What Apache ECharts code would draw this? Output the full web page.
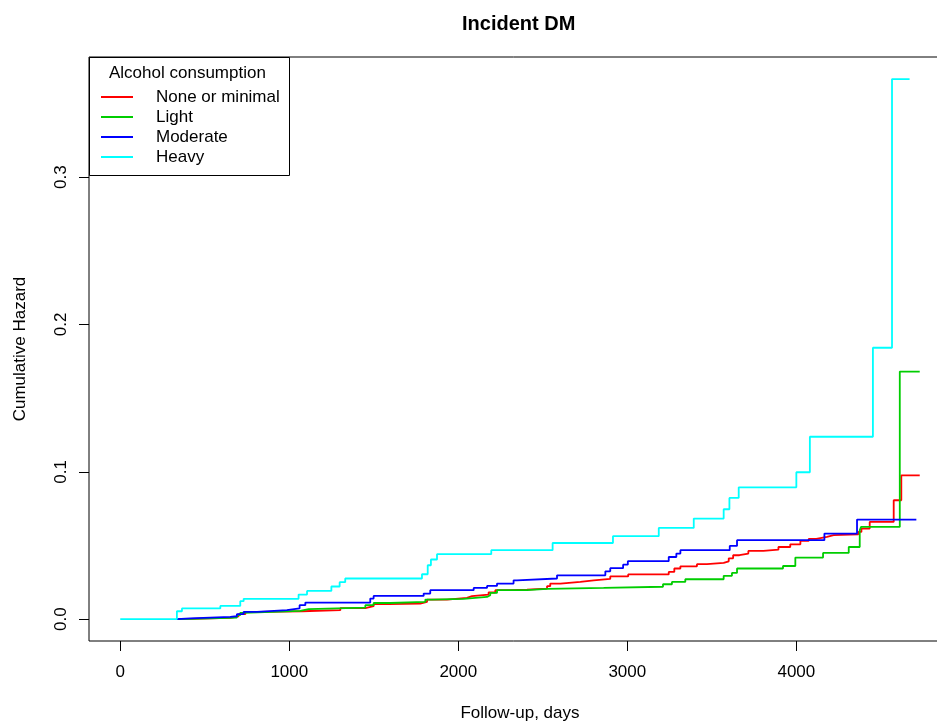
<!DOCTYPE html>
<html>
<head>
<meta charset="utf-8">
<script src="https://cdn.jsdelivr.net/npm/echarts@6/dist/echarts.min.js"></script>
<style>
html,body{margin:0;padding:0;background:#fff;}
#chart{width:937px;height:722px;}
</style>
</head>
<body>
<div id="chart"></div>
<script>
// ---- data ----
var seriesNames = ['None or minimal', 'Light', 'Moderate', 'Heavy'];
var xTicks = [0, 1000, 2000, 3000, 4000];
var yTicks = [0, 0.1, 0.2, 0.3];

var noneTimes = [345, 414, 651, 700, 740, 828, 1075, 1302, 1450, 1499, 1588, 1775, 1815, 1933, 2051, 2081, 2179, 2219, 2308, 2406, 2525, 2544, 2604, 2722, 2801, 2899, 3005, 3245, 3278, 3314, 3412, 3471, 3570, 3600, 3626, 3663, 3716, 3805, 3894, 3964, 4024, 4073, 4118, 4181, 4221, 4367, 4385, 4434, 4576, 4621, 4730];
var noneValues = [0.0002, 0.0009, 0.002, 0.0034, 0.005, 0.0054, 0.0061, 0.0075, 0.0088, 0.0102, 0.0106, 0.0117, 0.0133, 0.0144, 0.0156, 0.0167, 0.0181, 0.0197, 0.0201, 0.0208, 0.0224, 0.0242, 0.0253, 0.0264, 0.0273, 0.029, 0.0304, 0.0321, 0.0344, 0.0359, 0.0373, 0.0382, 0.0393, 0.0413, 0.0434, 0.0445, 0.0463, 0.0472, 0.049, 0.0508, 0.0531, 0.0545, 0.0558, 0.057, 0.0576, 0.0592, 0.0615, 0.066, 0.0807, 0.0976, 0.0976];

var lightTimes = [345, 365, 690, 710, 730, 1065, 1114, 1450, 1499, 1598, 1805, 1844, 2032, 2170, 2189, 2229, 2406, 2525, 2860, 3211, 3264, 3343, 3570, 3619, 3649, 3921, 3994, 4158, 4310, 4375, 4383, 4612, 4730];
var lightValues = [0, 0.0011, 0.0027, 0.0043, 0.0056, 0.0068, 0.0079, 0.0095, 0.011, 0.0117, 0.0133, 0.0138, 0.0151, 0.0163, 0.0178, 0.0197, 0.0206, 0.0212, 0.022, 0.0237, 0.0253, 0.0271, 0.0294, 0.0314, 0.0344, 0.0361, 0.0418, 0.045, 0.049, 0.0603, 0.0626, 0.168, 0.168];

var moderateTimes = [335, 345, 414, 651, 690, 730, 809, 986, 1061, 1095, 1479, 1499, 1795, 1834, 2091, 2170, 2229, 2327, 2347, 2584, 2870, 2899, 2975, 3003, 3245, 3290, 3314, 3606, 3649, 4166, 4359, 4710];
var moderateValues = [0, 0.0005, 0.0016, 0.002, 0.0034, 0.005, 0.0061, 0.0073, 0.0095, 0.0113, 0.014, 0.0158, 0.0174, 0.0197, 0.0212, 0.0226, 0.0242, 0.0264, 0.0276, 0.0298, 0.0325, 0.0346, 0.037, 0.0394, 0.0422, 0.0445, 0.0468, 0.0497, 0.0536, 0.0581, 0.0676, 0.0676];

var heavyTimes = [0, 335, 365, 592, 710, 730, 1055, 1105, 1249, 1298, 1331, 1785, 1819, 1838, 1874, 2195, 2558, 2915, 3186, 3393, 3570, 3604, 3659, 4000, 4080, 4453, 4566, 4670];
var heavyValues = [0, 0.0054, 0.0073, 0.009, 0.0122, 0.0138, 0.0167, 0.0192, 0.0222, 0.0251, 0.0276, 0.0305, 0.0366, 0.0405, 0.0441, 0.0468, 0.0517, 0.0563, 0.0619, 0.0683, 0.0746, 0.0823, 0.0895, 0.0997, 0.1238, 0.1842, 0.3665, 0.3665];

var seriesColors = ['#FF0000', '#00CD00', '#0000FF', '#00FFFF'];

function pairs(ts, vs) { return ts.map(function (t, i) { return [t, vs[i]]; }); }
var allData = [pairs(noneTimes, noneValues), pairs(lightTimes, lightValues),
               pairs(moderateTimes, moderateValues), pairs(heavyTimes, heavyValues)];

var FONT = '"Liberation Sans", Arial, sans-serif';
var chart = echarts.init(document.getElementById('chart'));

var option = {
  backgroundColor: '#fff',
  animation: false,
  textStyle: { fontFamily: FONT, color: '#000' },
  title: {
    text: 'Incident DM',
    left: 457, top: 9,
    textStyle: { fontFamily: FONT, fontSize: 20, fontWeight: 'bold', color: '#000' }
  },
  grid: {
    left: 89, top: 57, width: 862, height: 584,
    containLabel: false, outerBoundsMode: 'none',
    show: true, borderColor: '#000', borderWidth: 1, backgroundColor: 'transparent'
  },
  xAxis: {
    type: 'value', min: -185, max: 4915,
    name: 'Follow-up, days', nameLocation: 'middle', nameGap: 64,
    nameTextStyle: { fontFamily: FONT, fontSize: 17, color: '#000' },
    axisLine: { show: false, onZero: false },
    splitLine: { show: false },
    axisTick: { show: true, inside: false, length: 10, customValues: xTicks, lineStyle: { color: '#000', width: 1 } },
    axisLabel: { show: true, customValues: xTicks, margin: 23, fontSize: 17, fontFamily: FONT, color: '#000',
      formatter: function (v) { return String(v); } }
  },
  yAxis: {
    type: 'value', min: -0.0148, max: 0.3815,
    name: 'Cumulative Hazard', nameLocation: 'middle', nameGap: 60, nameRotate: 90,
    nameTextStyle: { fontFamily: FONT, fontSize: 17, color: '#000' },
    axisLine: { show: false, onZero: false },
    splitLine: { show: false },
    axisTick: { show: true, inside: false, length: 10, customValues: yTicks, lineStyle: { color: '#000', width: 1 } },
    axisLabel: { show: true, customValues: yTicks, rotate: 90, margin: 19, fontSize: 17, fontFamily: FONT, color: '#000',
      formatter: function (v) { return v.toFixed(1); } }
  },
  legend: {
    data: seriesNames,
    orient: 'vertical',
    left: 101, top: 87,
    icon: 'rect',
    itemWidth: 32, itemHeight: 2, itemGap: 0,
    padding: 0,
    textStyle: { fontFamily: FONT, fontSize: 17, color: '#000', padding: [0, 0, 0, 18], lineHeight: 20 }
  },
  graphic: [
    { type: 'rect', shape: { x: 89.5, y: 57.5, width: 200, height: 118 },
      style: { fill: 'transparent', stroke: '#000', lineWidth: 1 }, z: 100 },
    { type: 'text', x: 109, y: 73,
      style: { text: 'Alcohol consumption', font: '17px ' + FONT, fill: '#000', verticalAlign: 'middle' }, z: 100 }
  ],
  series: seriesNames.map(function (name, i) {
    return {
      name: name, type: 'line', step: 'end',
      data: allData[i], symbol: 'none', showSymbol: false,
      lineStyle: { color: seriesColors[i], width: 1.8 },
      itemStyle: { color: seriesColors[i] },
      z: 2 + i
    };
  })
};
chart.setOption(option);
</script>
</body>
</html>
